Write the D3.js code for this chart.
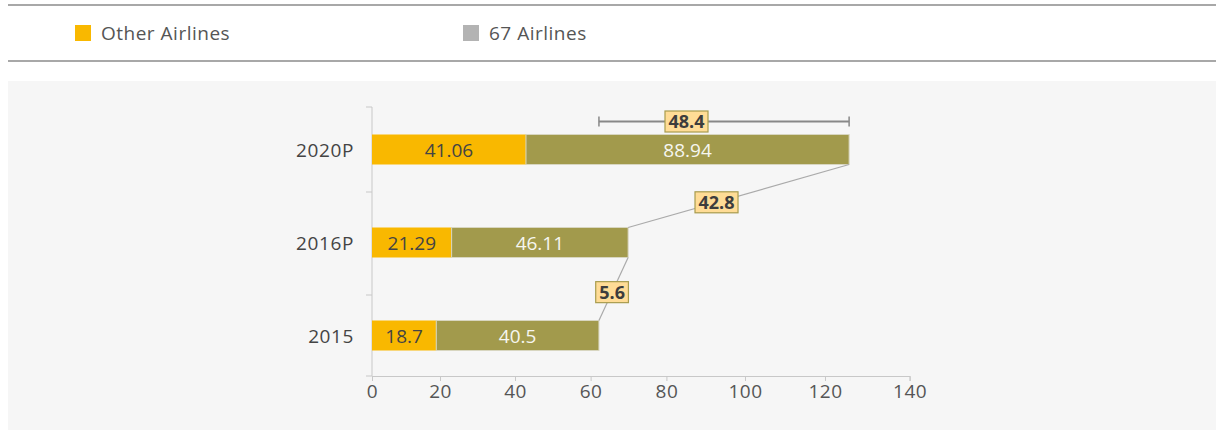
<!DOCTYPE html>
<html><head><meta charset="utf-8">
<script src="https://cdn.jsdelivr.net/npm/d3@7"></script>
<style>body{margin:0;background:#fff;}svg{display:block;}text{font-family:"Open Sans",Lato,sans-serif;font-weight:300;}</style>
</head><body><svg id="c" width="1216" height="430"></svg>
<script>
// ---- data ----
const categories = ["2020P", "2016P", "2015"];
const seriesNames = ["Other Airlines", "67 Airlines"];
// bar lengths as drawn in the picture
const otherValues = [42.9, 23.1, 18.9];
const sixtySevenValues = [82.8, 46.8, 43.3];
// value labels printed on the bars
const otherLabels = ["41.06", "21.29", "18.7"];
const sixtySevenLabels = ["88.94", "46.11", "40.5"];
// growth call-outs: 2015->2016, 2016->2020, 2015->2020
const growthLabels = ["5.6", "42.8", "48.4"];
const xTicks = [0, 20, 40, 60, 80, 100, 120, 140];

const colors = ["#F9B800", "#A29A4C"];
const legendColors = ["#F9B800", "#B3B3B3"];
const FONT = "'Open Sans',Lato,sans-serif";
const FS = 19;

const svg = d3.select("#c");
// header lines + legend
svg.append("line").attr("x1", 8).attr("x2", 1216).attr("y1", 5).attr("y2", 5).attr("stroke", "#a8a8a8").attr("stroke-width", 2);
svg.append("line").attr("x1", 8).attr("x2", 1216).attr("y1", 61).attr("y2", 61).attr("stroke", "#a8a8a8").attr("stroke-width", 2);
const legX = [75, 463];
seriesNames.forEach((n, i) => {
  svg.append("rect").attr("x", legX[i]).attr("y", 25).attr("width", 16).attr("height", 16).attr("fill", legendColors[i]);
  svg.append("text").attr("x", legX[i] + 26).attr("y", 40).attr("font-size", FS).attr("letter-spacing", 0.5)
    .style("font-weight", 400).attr("fill", "#555").text(n);
});

// panel
svg.append("rect").attr("x", 8).attr("y", 81).attr("width", 1208).attr("height", 349).attr("fill", "#f6f6f6");

// scales
const x = d3.scaleLinear().domain(xTicks).range([372, 440, 515, 590.6, 666.4, 745, 825, 909.6]);
const y = d3.scaleBand().domain(categories).range([103, 382]);
const barH = 30;
const yc = c => y(c) + y.bandwidth() / 2;
const axisY = 376;

// axes
svg.append("line").attr("x1", 372).attr("x2", 372).attr("y1", 107).attr("y2", axisY).attr("stroke", "#c8c8c8");
const edges = [107, y("2016P") - 4, y("2015") + 6, axisY];
edges.forEach(e => svg.append("line").attr("x1", 366).attr("x2", 372).attr("y1", e).attr("y2", e).attr("stroke", "#c8c8c8"));
const xa = svg.append("g").attr("transform", `translate(0,${axisY})`)
  .call(d3.axisBottom(x).tickValues(xTicks).tickSize(5).tickPadding(4));
xa.select(".domain").attr("stroke", "#c8c8c8");
xa.selectAll(".tick line").attr("stroke", "#c8c8c8");
xa.selectAll(".tick text").attr("font-size", FS).attr("fill", "#555").attr("font-family", FONT)
  .attr("letter-spacing", 0.5).style("font-weight", 400);

// category labels
categories.forEach(c => svg.append("text").attr("x", 354).attr("y", yc(c) + 7).attr("text-anchor", "end")
  .attr("font-size", FS).attr("letter-spacing", 0.6).style("font-weight", 400).attr("fill", "#444").text(c));

// bars
const rows = categories.map((c, i) => ({c, a: otherValues[i], b: sixtySevenValues[i], la: otherLabels[i], lb: sixtySevenLabels[i]}));
rows.forEach(r => {
  const top = yc(r.c) - barH / 2;
  svg.append("rect").attr("x", x(0)).attr("y", top).attr("width", x(r.a) - x(0)).attr("height", barH).attr("fill", colors[0]);
  svg.append("rect").attr("x", x(r.a)).attr("y", top).attr("width", x(r.a + r.b) - x(r.a)).attr("height", barH)
    .attr("fill", colors[1]).attr("stroke", "#d8d6c0").attr("stroke-width", 1);
  svg.append("text").attr("x", (x(0) + x(r.a)) / 2).attr("y", yc(r.c) + 7).attr("text-anchor", "middle")
    .attr("font-size", FS).style("font-weight", 400).attr("fill", "#444").text(r.la);
  svg.append("text").attr("x", (x(r.a) + x(r.a + r.b)) / 2).attr("y", yc(r.c) + 7).attr("text-anchor", "middle")
    .attr("font-size", FS).style("font-weight", 400).attr("fill", "#f6f6f0").text(r.lb);
});

// connector lines
const tot = rows.map(r => r.a + r.b);
function badge(cx, cy, txt) {
  const g = svg.append("g");
  const t = g.append("text").attr("x", cx).attr("y", cy + 6.5).attr("text-anchor", "middle").attr("font-size", 18)
    .style("font-weight", 700).attr("fill", "#3d3d3d").text(txt);
  const w = t.node().getComputedTextLength() + 7;
  g.insert("rect", "text").attr("x", cx - w / 2).attr("y", cy - 10.5).attr("width", w).attr("height", 21)
    .attr("fill", "#FFDC96").attr("stroke", "#A89C4E").attr("stroke-width", 1.2);
}
function connector(i0, i1, t, txt) {
  const p0 = [x(tot[i0]), yc(categories[i0]) - barH / 2];
  const p1 = [x(tot[i1]), yc(categories[i1]) + barH / 2];
  svg.append("line").attr("x1", p0[0]).attr("y1", p0[1]).attr("x2", p1[0]).attr("y2", p1[1]).attr("stroke", "#aaa").attr("stroke-width", 1.2);
  badge(p0[0] + (p1[0] - p0[0]) * t, p0[1] + (p1[1] - p0[1]) * t, txt);
}
connector(2, 1, 0.45, growthLabels[0]);
connector(1, 0, 0.4, growthLabels[1]);

// bracket 2015 -> 2020
const by = yc(categories[0]) - barH / 2 - 13;
const bx0 = x(tot[2]), bx1 = x(tot[0]);
svg.append("line").attr("x1", bx0).attr("x2", bx1).attr("y1", by).attr("y2", by).attr("stroke", "#888").attr("stroke-width", 2);
[bx0, bx1].forEach(bx => svg.append("line").attr("x1", bx).attr("x2", bx).attr("y1", by - 5).attr("y2", by + 5).attr("stroke", "#888").attr("stroke-width", 1.5));
badge(bx0 + (bx1 - bx0) * 0.35, by, growthLabels[2]);
</script></body></html>
